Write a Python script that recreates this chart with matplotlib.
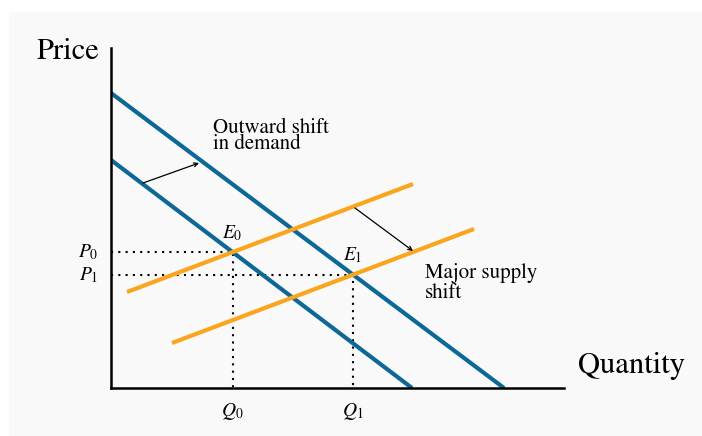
import numpy as np
import matplotlib.pyplot as plt
from matplotlib.patches import Rectangle

plt.rcParams['font.family'] = ['STIXGeneral', 'Liberation Serif', 'DejaVu Serif']
plt.rcParams['mathtext.fontset'] = 'stix'

# curve end points (quantity, price)
demand0_q = [0.0, 30.1]
demand0_p = [22.8, 0.0]
demand1_q = [0.0, 39.3]
demand1_p = [29.5, 0.0]
supply0_q = [1.6, 30.2]
supply0_p = [9.6, 20.4]
supply1_q = [6.1, 36.3]
supply1_p = [4.5, 15.9]

blue = '#0d6897'
orange = '#f9a51e'


def line_coef(q, p):
    m = (p[1] - p[0]) / (q[1] - q[0])
    return m, p[0] - m * q[0]


def cross(q1, p1, q2, p2):
    m1, b1 = line_coef(q1, p1)
    m2, b2 = line_coef(q2, p2)
    q = (b2 - b1) / (m1 - m2)
    return q, m1 * q + b1


Q0, P0 = cross(demand0_q, demand0_p, supply0_q, supply0_p)
Q1, P1 = cross(demand1_q, demand1_p, supply1_q, supply1_p)

W, H = 702, 436
fig = plt.figure(figsize=(W / 100, H / 100), dpi=100)
fig.patch.set_facecolor('white')
fig.patches.append(Rectangle((9 / W, 0), 1, 1 - 12 / H, transform=fig.transFigure,
                             facecolor='#f9f9f9', edgecolor='none', zorder=-10))

ax = fig.add_axes([111 / W, (H - 388) / H, (564 - 111) / W, (388 - 48) / H])
ax.set_facecolor('none')
ax.set_xlim(0, 45.3)
ax.set_ylim(0, 34)
for s in ['top', 'right']:
    ax.spines[s].set_visible(False)
for s in ['left', 'bottom']:
    ax.spines[s].set_linewidth(1.8)
ax.set_xticks([])
ax.set_yticks([])

# dotted guides
dots = (0, (1, 2.5))
ax.plot([0, Q0, Q0], [P0, P0, 0], color='black', ls=dots, lw=1.5, clip_on=False)
ax.plot([0, Q1, Q1], [P1, P1, 0], color='black', ls=dots, lw=1.5, clip_on=False)

ax.plot(demand0_q, demand0_p, color=blue, lw=3, solid_capstyle='butt')
ax.plot(demand1_q, demand1_p, color=blue, lw=3, solid_capstyle='butt')
ax.plot(supply0_q, supply0_p, color=orange, lw=3, solid_capstyle='butt')
ax.plot(supply1_q, supply1_p, color=orange, lw=3, solid_capstyle='butt')

# shift arrows
ax.annotate('', xy=(8.8, 22.5), xytext=(3.2, 20.5),
            arrowprops=dict(arrowstyle='->', lw=0.9, color='black',
                            shrinkA=0, shrinkB=0, mutation_scale=7))
ax.annotate('', xy=(30.2, 13.7), xytext=(24.4, 18.0),
            arrowprops=dict(arrowstyle='->', lw=0.9, color='black',
                            shrinkA=0, shrinkB=0, mutation_scale=7))

ax.text(10.2, 25.5, 'Outward shift', fontsize=15, va='baseline')
ax.text(10.2, 23.9, 'in demand', fontsize=15, va='baseline')
ax.text(31.4, 11.0, 'Major supply', fontsize=15, va='baseline')
ax.text(31.4, 9.0, 'shift', fontsize=15, va='baseline')

ax.text(Q0, P0 + 1.4, '$E_0$', fontsize=14, ha='center', va='baseline')
ax.text(Q1, P1 + 1.4, '$E_1$', fontsize=14, ha='center', va='baseline')
ax.text(-1.3, P0, '$P_0$', fontsize=14, ha='right', va='center')
ax.text(-1.3, P1, '$P_1$', fontsize=14, ha='right', va='center')
ax.text(Q0, -2.3, '$Q_0$', fontsize=14, ha='center', va='center')
ax.text(Q1, -2.3, '$Q_1$', fontsize=14, ha='center', va='center')

ax.text(-1.2, 32.9, 'Price', fontsize=22, ha='right', va='baseline')
ax.text(46.7, 1.5, 'Quantity', fontsize=22, ha='left', va='baseline')

fig.savefig('out.png', dpi=100, facecolor=fig.get_facecolor())
